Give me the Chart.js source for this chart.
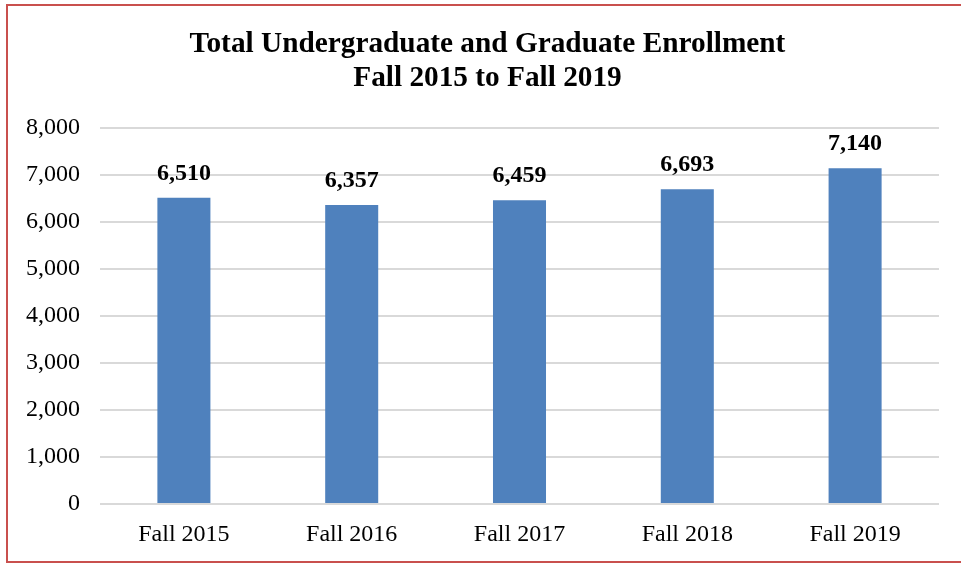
<!DOCTYPE html>
<html>
<head>
<meta charset="utf-8">
<script src="https://cdn.jsdelivr.net/npm/chart.js@4.4.0/dist/chart.umd.min.js"></script>
<style>
  body { margin: 0; background: #fff; overflow: hidden; }
  #wrap { position: relative; width: 961px; height: 563px; }
  #frame { position: absolute; left: 6px; top: 4px; width: 980px; height: 555px;
           border: 2px solid #C9504E; pointer-events: none; }
  canvas { position: absolute; left: 0; top: 0; }
</style>
</head>
<body>
<div id="wrap">
  <canvas id="enrollChart" width="961" height="563"></canvas>
  <div id="frame"></div>
</div>
<script>
const categories = ['Fall 2015', 'Fall 2016', 'Fall 2017', 'Fall 2018', 'Fall 2019'];
const enrollment = [6510, 6357, 6459, 6693, 7140];
const titleLines = ['Total Undergraduate and Graduate Enrollment', 'Fall 2015 to Fall 2019'];

const serif = '"Liberation Serif", "Times New Roman", serif';

// Draw the value above each bar
const valueLabels = {
    id: 'valueLabels',
    afterDatasetsDraw(chart) {
        const ctx = chart.ctx;
        const meta = chart.getDatasetMeta(0);
        ctx.save();
        ctx.font = 'bold 24px ' + serif;
        ctx.fillStyle = '#000';
        ctx.textAlign = 'center';
        ctx.textBaseline = 'middle';
        meta.data.forEach((bar, i) => {
            ctx.fillText(enrollment[i].toLocaleString('en-US'), bar.x, bar.y - 24);
        });
        ctx.restore();
    }
};

// Title sits a bit right of the canvas centre in the original
const shiftTitle = {
    id: 'shiftTitle',
    afterLayout(chart) {
        if (chart.titleBlock) chart.titleBlock.left += 36;
    }
};

new Chart(document.getElementById('enrollChart').getContext('2d'), {
    type: 'bar',
    data: {
        labels: categories,
        datasets: [{
            data: enrollment,
            backgroundColor: '#4F81BD',
            borderWidth: 0,
            barPercentage: 0.316,
            categoryPercentage: 1
        }]
    },
    options: {
        responsive: false,
        animation: false,
        devicePixelRatio: 1,
        layout: { padding: { left: 0, right: 22, top: 0, bottom: 14 } },
        plugins: {
            legend: { display: false },
            tooltip: { enabled: false },
            title: {
                display: true,
                text: titleLines,
                color: '#000',
                font: { family: serif, size: 29.3, weight: 'bold', lineHeight: 1.14 },
                padding: { top: 28, bottom: 33 }
            }
        },
        scales: {
            x: {
                afterFit: scale => { scale.height = 45; },
                grid: { display: false, drawTicks: false },
                border: { display: false },
                ticks: {
                    color: '#000',
                    font: { family: serif, size: 24 },
                    padding: 16
                }
            },
            y: {
                min: 0,
                max: 8000,
                afterFit: scale => { scale.width = 100; },
                grid: { color: '#D9D9D9', lineWidth: 2, drawTicks: false },
                border: { display: false },
                ticks: {
                    stepSize: 1000,
                    color: '#000',
                    padding: 20,
                    font: { family: serif, size: 24 },
                    callback: value => value.toLocaleString('en-US')
                }
            }
        }
    },
    plugins: [valueLabels, shiftTitle]
});
</script>
</body>
</html>
